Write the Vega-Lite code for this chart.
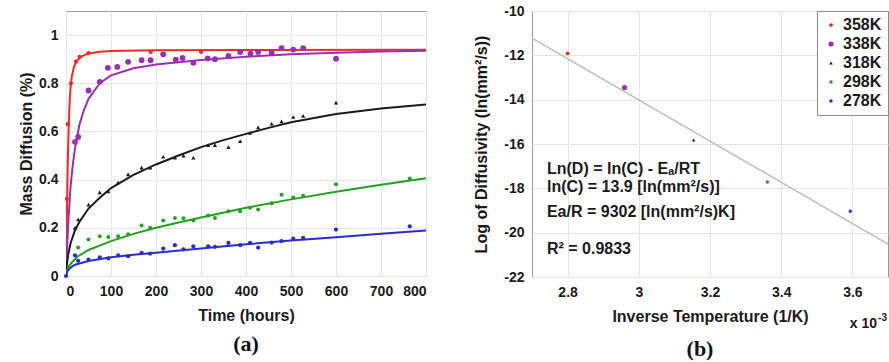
{
  "$schema": "https://vega.github.io/schema/vega-lite/v6.json",
  "padding": {"left": 18, "top": 3, "right": 1, "bottom": 4},
  "background": "white",
  "config": {
    "font": "Liberation Sans",
    "view": {"stroke": "#9a9a9a", "strokeWidth": 1},
    "axis": {
      "grid": true, "gridColor": "#e4e4e4", "ticks": false, "domain": false,
      "labelFont": "Liberation Sans", "labelFontSize": 14, "labelFontWeight": "bold", "labelColor": "#1a1a1a",
      "titleFont": "Liberation Sans", "titleFontSize": 16, "titleFontWeight": "bold", "titleColor": "#1a1a1a",
      "labelPadding": 8
    },
    "legend": {
      "orient": "top-right", "offset": 0, "strokeColor": "#8a8a8a", "fillColor": "white",
      "padding": 6, "labelFont": "Liberation Sans", "labelFontSize": 16, "labelFontWeight": "bold",
      "labelColor": "#1a1a1a", "rowPadding": 3, "labelOffset": 4
    }
  },
  "datasets": {
    "pts": [
      {"series": "358K", "t": 2, "m": 0.32}, {"series": "358K", "t": 4, "m": 0.63}, {"series": "358K", "t": 11, "m": 0.80},
      {"series": "358K", "t": 22, "m": 0.89}, {"series": "358K", "t": 30, "m": 0.91}, {"series": "358K", "t": 50, "m": 0.925},
      {"series": "358K", "t": 188, "m": 0.93}, {"series": "358K", "t": 300, "m": 0.93},
      {"series": "338K", "t": 20, "m": 0.557}, {"series": "338K", "t": 27, "m": 0.577}, {"series": "338K", "t": 50, "m": 0.77},
      {"series": "338K", "t": 75, "m": 0.806}, {"series": "338K", "t": 93, "m": 0.864}, {"series": "338K", "t": 114, "m": 0.868},
      {"series": "338K", "t": 138, "m": 0.889}, {"series": "338K", "t": 168, "m": 0.896}, {"series": "338K", "t": 188, "m": 0.896},
      {"series": "338K", "t": 216, "m": 0.92}, {"series": "338K", "t": 244, "m": 0.898}, {"series": "338K", "t": 259, "m": 0.905},
      {"series": "338K", "t": 283, "m": 0.885}, {"series": "338K", "t": 315, "m": 0.903}, {"series": "338K", "t": 331, "m": 0.9},
      {"series": "338K", "t": 361, "m": 0.914}, {"series": "338K", "t": 387, "m": 0.93}, {"series": "338K", "t": 410, "m": 0.923},
      {"series": "338K", "t": 427, "m": 0.93}, {"series": "338K", "t": 457, "m": 0.927}, {"series": "338K", "t": 479, "m": 0.946},
      {"series": "338K", "t": 505, "m": 0.94}, {"series": "338K", "t": 527, "m": 0.946}, {"series": "338K", "t": 600, "m": 0.902},
      {"series": "318K", "t": 20, "m": 0.2}, {"series": "318K", "t": 27, "m": 0.235}, {"series": "318K", "t": 50, "m": 0.296},
      {"series": "318K", "t": 75, "m": 0.347}, {"series": "318K", "t": 94, "m": 0.351}, {"series": "318K", "t": 116, "m": 0.388},
      {"series": "318K", "t": 138, "m": 0.422}, {"series": "318K", "t": 168, "m": 0.45}, {"series": "318K", "t": 187, "m": 0.45},
      {"series": "318K", "t": 216, "m": 0.495}, {"series": "318K", "t": 242, "m": 0.491}, {"series": "318K", "t": 261, "m": 0.5},
      {"series": "318K", "t": 283, "m": 0.491}, {"series": "318K", "t": 316, "m": 0.543}, {"series": "318K", "t": 331, "m": 0.543},
      {"series": "318K", "t": 361, "m": 0.535}, {"series": "318K", "t": 387, "m": 0.56}, {"series": "318K", "t": 409, "m": 0.594},
      {"series": "318K", "t": 427, "m": 0.617}, {"series": "318K", "t": 457, "m": 0.632}, {"series": "318K", "t": 479, "m": 0.642},
      {"series": "318K", "t": 505, "m": 0.66}, {"series": "318K", "t": 527, "m": 0.665}, {"series": "318K", "t": 600, "m": 0.72},
      {"series": "298K", "t": 27, "m": 0.118}, {"series": "298K", "t": 50, "m": 0.151}, {"series": "298K", "t": 75, "m": 0.165},
      {"series": "298K", "t": 94, "m": 0.162}, {"series": "298K", "t": 116, "m": 0.165}, {"series": "298K", "t": 138, "m": 0.173},
      {"series": "298K", "t": 168, "m": 0.21}, {"series": "298K", "t": 187, "m": 0.2}, {"series": "298K", "t": 216, "m": 0.23},
      {"series": "298K", "t": 242, "m": 0.241}, {"series": "298K", "t": 261, "m": 0.24}, {"series": "298K", "t": 283, "m": 0.23},
      {"series": "298K", "t": 316, "m": 0.251}, {"series": "298K", "t": 331, "m": 0.241}, {"series": "298K", "t": 361, "m": 0.269},
      {"series": "298K", "t": 387, "m": 0.269}, {"series": "298K", "t": 409, "m": 0.283}, {"series": "298K", "t": 427, "m": 0.276},
      {"series": "298K", "t": 457, "m": 0.302}, {"series": "298K", "t": 479, "m": 0.337}, {"series": "298K", "t": 505, "m": 0.326},
      {"series": "298K", "t": 527, "m": 0.333}, {"series": "298K", "t": 600, "m": 0.381}, {"series": "298K", "t": 764, "m": 0.405},
      {"series": "278K", "t": 0, "m": 0}, {"series": "278K", "t": 20, "m": 0.086}, {"series": "278K", "t": 27, "m": 0.063},
      {"series": "278K", "t": 50, "m": 0.068}, {"series": "278K", "t": 75, "m": 0.077}, {"series": "278K", "t": 94, "m": 0.073},
      {"series": "278K", "t": 116, "m": 0.086}, {"series": "278K", "t": 138, "m": 0.082}, {"series": "278K", "t": 168, "m": 0.096},
      {"series": "278K", "t": 187, "m": 0.093}, {"series": "278K", "t": 216, "m": 0.114}, {"series": "278K", "t": 242, "m": 0.128},
      {"series": "278K", "t": 261, "m": 0.111}, {"series": "278K", "t": 283, "m": 0.123}, {"series": "278K", "t": 316, "m": 0.123},
      {"series": "278K", "t": 331, "m": 0.121}, {"series": "278K", "t": 361, "m": 0.137}, {"series": "278K", "t": 387, "m": 0.128},
      {"series": "278K", "t": 409, "m": 0.137}, {"series": "278K", "t": 427, "m": 0.118}, {"series": "278K", "t": 457, "m": 0.139},
      {"series": "278K", "t": 479, "m": 0.145}, {"series": "278K", "t": 505, "m": 0.155}, {"series": "278K", "t": 527, "m": 0.158},
      {"series": "278K", "t": 600, "m": 0.193}, {"series": "278K", "t": 764, "m": 0.206}
    ],
    "fits": [
      {"series": "358K", "t": 0, "m": 0}, {"series": "358K", "t": 1, "m": 0.13}, {"series": "358K", "t": 2, "m": 0.25},
      {"series": "358K", "t": 3, "m": 0.37}, {"series": "358K", "t": 4, "m": 0.48}, {"series": "358K", "t": 6, "m": 0.62},
      {"series": "358K", "t": 8, "m": 0.72}, {"series": "358K", "t": 10, "m": 0.78}, {"series": "358K", "t": 13, "m": 0.83},
      {"series": "358K", "t": 18, "m": 0.87}, {"series": "358K", "t": 25, "m": 0.895}, {"series": "358K", "t": 35, "m": 0.912},
      {"series": "358K", "t": 50, "m": 0.924}, {"series": "358K", "t": 75, "m": 0.931}, {"series": "358K", "t": 100, "m": 0.934},
      {"series": "358K", "t": 200, "m": 0.937}, {"series": "358K", "t": 400, "m": 0.938}, {"series": "358K", "t": 800, "m": 0.939},
      {"series": "338K", "t": 0, "m": 0}, {"series": "338K", "t": 2, "m": 0.1}, {"series": "338K", "t": 5, "m": 0.22},
      {"series": "338K", "t": 10, "m": 0.37}, {"series": "338K", "t": 15, "m": 0.46}, {"series": "338K", "t": 20, "m": 0.53},
      {"series": "338K", "t": 30, "m": 0.63}, {"series": "338K", "t": 40, "m": 0.69}, {"series": "338K", "t": 50, "m": 0.735},
      {"series": "338K", "t": 75, "m": 0.8}, {"series": "338K", "t": 100, "m": 0.833}, {"series": "338K", "t": 150, "m": 0.862},
      {"series": "338K", "t": 200, "m": 0.878}, {"series": "338K", "t": 300, "m": 0.897}, {"series": "338K", "t": 400, "m": 0.91},
      {"series": "338K", "t": 500, "m": 0.92}, {"series": "338K", "t": 600, "m": 0.927}, {"series": "338K", "t": 700, "m": 0.932},
      {"series": "338K", "t": 800, "m": 0.935},
      {"series": "318K", "t": 0, "m": 0}, {"series": "318K", "t": 2, "m": 0.05}, {"series": "318K", "t": 5, "m": 0.09},
      {"series": "318K", "t": 10, "m": 0.135}, {"series": "318K", "t": 20, "m": 0.19}, {"series": "318K", "t": 30, "m": 0.225},
      {"series": "318K", "t": 50, "m": 0.28}, {"series": "318K", "t": 75, "m": 0.325}, {"series": "318K", "t": 100, "m": 0.365},
      {"series": "318K", "t": 150, "m": 0.42}, {"series": "318K", "t": 200, "m": 0.463}, {"series": "318K", "t": 250, "m": 0.5},
      {"series": "318K", "t": 300, "m": 0.535}, {"series": "318K", "t": 350, "m": 0.564}, {"series": "318K", "t": 400, "m": 0.59},
      {"series": "318K", "t": 450, "m": 0.615}, {"series": "318K", "t": 500, "m": 0.638}, {"series": "318K", "t": 600, "m": 0.672},
      {"series": "318K", "t": 700, "m": 0.695}, {"series": "318K", "t": 800, "m": 0.712},
      {"series": "298K", "t": 0, "m": 0}, {"series": "298K", "t": 2, "m": 0.02}, {"series": "298K", "t": 5, "m": 0.035},
      {"series": "298K", "t": 10, "m": 0.05}, {"series": "298K", "t": 25, "m": 0.08}, {"series": "298K", "t": 50, "m": 0.108},
      {"series": "298K", "t": 100, "m": 0.145}, {"series": "298K", "t": 150, "m": 0.175}, {"series": "298K", "t": 200, "m": 0.2},
      {"series": "298K", "t": 250, "m": 0.222}, {"series": "298K", "t": 300, "m": 0.243}, {"series": "298K", "t": 400, "m": 0.283},
      {"series": "298K", "t": 500, "m": 0.318}, {"series": "298K", "t": 600, "m": 0.35}, {"series": "298K", "t": 700, "m": 0.379},
      {"series": "298K", "t": 800, "m": 0.406},
      {"series": "278K", "t": 0, "m": 0}, {"series": "278K", "t": 2, "m": 0.015}, {"series": "278K", "t": 5, "m": 0.025},
      {"series": "278K", "t": 10, "m": 0.035}, {"series": "278K", "t": 20, "m": 0.047}, {"series": "278K", "t": 50, "m": 0.062},
      {"series": "278K", "t": 100, "m": 0.078}, {"series": "278K", "t": 150, "m": 0.088}, {"series": "278K", "t": 200, "m": 0.097},
      {"series": "278K", "t": 300, "m": 0.114}, {"series": "278K", "t": 400, "m": 0.132}, {"series": "278K", "t": 500, "m": 0.147},
      {"series": "278K", "t": 600, "m": 0.161}, {"series": "278K", "t": 700, "m": 0.175}, {"series": "278K", "t": 800, "m": 0.189}
    ],
    "arr": [
      {"series": "358K", "invT": 2.80, "lnD": -11.91},
      {"series": "338K", "invT": 2.96, "lnD": -13.45},
      {"series": "318K", "invT": 3.154, "lnD": -15.82},
      {"series": "298K", "invT": 3.361, "lnD": -17.71},
      {"series": "278K", "invT": 3.594, "lnD": -19.03}
    ],
    "reg": [
      {"invT": 2.7, "lnD": -11.22},
      {"invT": 3.7, "lnD": -20.52}
    ],
    "annot": [
      {"label": "Ln(D) = ln(C) - Eₐ/RT", "invT": 2.742, "lnD": -17.14},
      {"label": "ln(C) = 13.9 [ln(mm²/s)]", "invT": 2.742, "lnD": -17.95},
      {"label": "Ea/R = 9302 [ln(mm²/s)K]", "invT": 2.742, "lnD": -19.05},
      {"label": "R² = 0.9833", "invT": 2.742, "lnD": -20.73}
    ]
  },
  "bounds": "flush",
  "spacing": 106,
  "resolve": {
    "scale": {"color": "independent", "shape": "independent", "size": "independent"},
    "legend": {"color": "independent", "shape": "independent", "size": "independent"}
  },
  "hconcat": [
    {
      "width": 360,
      "height": 265,
      "title": {"text": "(a)", "orient": "bottom", "font": "Liberation Serif", "fontSize": 22, "fontWeight": "bold", "color": "#111", "offset": 11},
      "layer": [
        {
          "data": {"name": "fits"},
          "mark": {"type": "line", "strokeWidth": 2, "clip": true},
          "encoding": {
            "x": {"field": "t", "type": "quantitative", "scale": {"domain": [0, 800], "nice": false},
                  "axis": {"title": "Time (hours)", "values": [0, 100, 200, 300, 400, 500, 600, 700, 800], "titlePadding": 9}},
            "y": {"field": "m", "type": "quantitative", "scale": {"domain": [0, 1.1], "nice": false},
                  "axis": {"title": "Mass Diffusion (%)", "values": [0, 0.2, 0.4, 0.6, 0.8, 1], "format": "~g", "titlePadding": 4}},
            "color": {"field": "series", "type": "nominal",
                      "scale": {"domain": ["358K", "338K", "318K", "298K", "278K"], "range": ["#f52828", "#9a2fb3", "#1a1a1a", "#23a023", "#2c2cc8"]},
                      "legend": null}
          }
        },
        {
          "data": {"name": "pts"},
          "mark": {"type": "point", "filled": true, "opacity": 1},
          "encoding": {
            "x": {"field": "t", "type": "quantitative"},
            "y": {"field": "m", "type": "quantitative"},
            "color": {"field": "series", "type": "nominal", "legend": {"title": null}},
            "shape": {"field": "series", "type": "nominal",
                      "scale": {"domain": ["358K", "338K", "318K", "298K", "278K"], "range": ["circle", "circle", "triangle-up", "circle", "circle"]},
                      "legend": {"title": null}},
            "size": {"field": "series", "type": "nominal",
                     "scale": {"type": "ordinal", "domain": ["358K", "338K", "318K", "298K", "278K"], "range": [18, 34, 18, 16, 18]},
                     "legend": {"title": null}}
          }
        }
      ]
    },
    {
      "width": 356,
      "height": 266,
      "title": {"text": "(b)", "orient": "bottom", "font": "Liberation Serif", "fontSize": 22, "fontWeight": "bold", "color": "#111", "offset": 8, "dx": -10},
      "layer": [
        {
          "data": {"name": "reg"},
          "mark": {"type": "line", "color": "#bdbdbd", "strokeWidth": 1.5, "clip": true},
          "encoding": {
            "x": {"field": "invT", "type": "quantitative", "scale": {"domain": [2.7, 3.7], "nice": false, "zero": false},
                  "axis": {"title": "Inverse Temperature (1/K)", "values": [2.8, 3, 3.2, 3.4, 3.6], "labelExpr": "'' + datum.value", "titlePadding": 9}},
            "y": {"field": "lnD", "type": "quantitative", "scale": {"domain": [-22, -10], "nice": false, "zero": false},
                  "axis": {"title": "Log of Diffusivity (ln(mm²/s))", "values": [-22, -20, -18, -16, -14, -12, -10], "labelExpr": "'' + datum.value", "titlePadding": 14}}
          }
        },
        {
          "data": {"name": "arr"},
          "mark": {"type": "point", "filled": true, "opacity": 1},
          "encoding": {
            "x": {"field": "invT", "type": "quantitative"},
            "y": {"field": "lnD", "type": "quantitative"},
            "color": {"field": "series", "type": "nominal",
                      "scale": {"domain": ["358K", "338K", "318K", "298K", "278K"], "range": ["#f52828", "#9a2fb3", "#1a1a1a", "#23a023", "#2c2cc8"]},
                      "legend": {"title": null}},
            "shape": {"field": "series", "type": "nominal",
                      "scale": {"domain": ["358K", "338K", "318K", "298K", "278K"], "range": ["circle", "circle", "triangle-up", "circle", "circle"]},
                      "legend": {"title": null}},
            "size": {"field": "series", "type": "nominal",
                     "scale": {"type": "ordinal", "domain": ["358K", "338K", "318K", "298K", "278K"], "range": [14, 26, 12, 12, 12]},
                     "legend": {"title": null}}
          }
        },
        {
          "data": {"name": "annot"},
          "mark": {"type": "text", "align": "left", "baseline": "middle", "fontSize": 16, "fontWeight": "bold", "color": "#1a1a1a", "font": "Liberation Sans"},
          "encoding": {
            "x": {"field": "invT", "type": "quantitative"},
            "y": {"field": "lnD", "type": "quantitative"},
            "text": {"field": "label", "type": "nominal"}
          }
        },
        {
          "data": {"values": [{}]},
          "mark": {"type": "text", "align": "right", "baseline": "middle", "fontSize": 14, "fontWeight": "bold", "color": "#1a1a1a", "font": "Liberation Sans", "dx": -11},
          "encoding": {
            "x": {"datum": 3.7},
            "y": {"datum": -24.1},
            "text": {"value": "x 10"}
          }
        },
        {
          "data": {"values": [{}]},
          "mark": {"type": "text", "align": "right", "baseline": "middle", "fontSize": 10, "fontWeight": "bold", "color": "#1a1a1a", "font": "Liberation Sans", "dx": -1, "dy": -6},
          "encoding": {
            "x": {"datum": 3.7},
            "y": {"datum": -24.1},
            "text": {"value": "-3"}
          }
        }
      ]
    }
  ]
}
